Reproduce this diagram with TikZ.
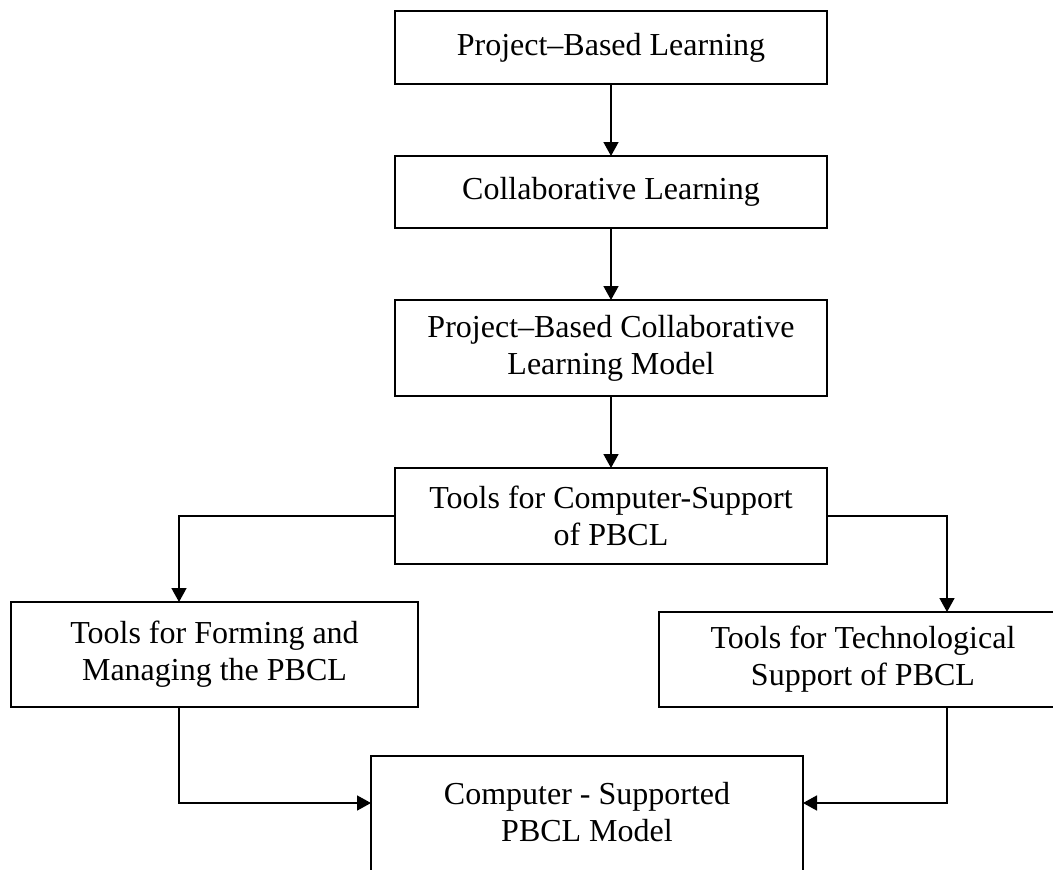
\documentclass[tikz,border=0pt]{standalone}
\usepackage{fontspec}
\setmainfont{Liberation Serif}
\usetikzlibrary{positioning,arrows.meta}

\begin{document}
\begin{tikzpicture}[x=1pt,y=1pt,font=\fontsize{32}{37}\selectfont,block/.style={draw,rectangle,line width=1.8pt,outer sep=0pt,inner sep=0pt,minimum width=432pt,align=center},arrow/.style={draw=black,line width=1.6pt,-{Triangle[length=14pt,width=15pt]}}]
  \useasboundingbox (0,0) rectangle (1053,-870);
  \clip (0,0) rectangle (1053,-870);

  \node[block,minimum height=73pt] (pbl) at (611,-47.5) {Project--Based Learning};
  \node[block,minimum height=72pt,below=72pt of pbl] (cl) {Collaborative Learning};
  \node[block,minimum height=96pt,below=72pt of cl] (pbclm) {Project--Based Collaborative\\Learning Model};
  \node[block,minimum height=96pt,below=72pt of pbclm] (tools) {Tools for Computer-Support\\of PBCL};

  \node[block,minimum width=407pt,minimum height=105pt] (formtools) at (214.5,-654.5) {Tools for Forming and\\Managing the PBCL};
  \node[block,minimum width=408pt,minimum height=95pt] (techtools) at (863,-659.5) {Tools for Technological\\Support of PBCL};

  \node[block,minimum height=200pt,anchor=north] (model) at (587,-756) {};
  \node[align=center] (modeltext) at (587,-812) {Computer - Supported\\PBCL Model};
  \coordinate (modelin) at (587,-803);

  \draw[arrow] (pbl) -- (cl);
  \draw[arrow] (cl) -- (pbclm);
  \draw[arrow] (pbclm) -- (tools);
  \draw[arrow] (tools.west) -| ([xshift=-35.5pt]formtools.north);
  \draw[arrow] (tools.east) -| ([xshift=84pt]techtools.north);
  \draw[arrow] ([xshift=-35.5pt]formtools.south) |- (model.west |- modelin);
  \draw[arrow] ([xshift=84pt]techtools.south) |- (model.east |- modelin);
\end{tikzpicture}
\end{document}
